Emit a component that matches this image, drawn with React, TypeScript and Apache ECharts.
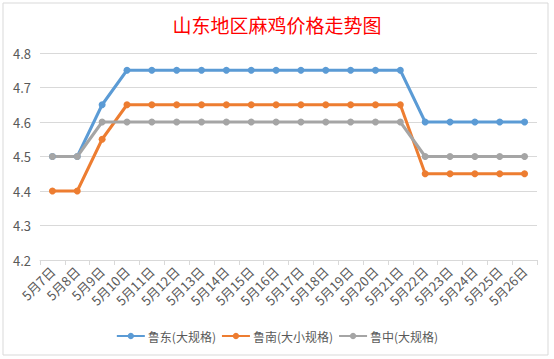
import React, { useEffect, useRef } from "react";
import * as echarts from "echarts";

const categories = ["5月7日","5月8日","5月9日","5月10日","5月11日","5月12日","5月13日","5月14日","5月15日","5月16日","5月17日","5月18日","5月19日","5月20日","5月21日","5月22日","5月23日","5月24日","5月25日","5月26日"];
const ludong = [4.5,4.5,4.65,4.75,4.75,4.75,4.75,4.75,4.75,4.75,4.75,4.75,4.75,4.75,4.75,4.6,4.6,4.6,4.6,4.6];
const lunan = [4.4,4.4,4.55,4.65,4.65,4.65,4.65,4.65,4.65,4.65,4.65,4.65,4.65,4.65,4.65,4.45,4.45,4.45,4.45,4.45];
const luzhong = [4.5,4.5,4.6,4.6,4.6,4.6,4.6,4.6,4.6,4.6,4.6,4.6,4.6,4.6,4.6,4.5,4.5,4.5,4.5,4.5];
const seriesNames = ["鲁东(大规格)","鲁南(大小规格)","鲁中(大规格)"];
const colors = ["#5b9bd5","#ed7d31","#a5a5a5"];
const title = "山东地区麻鸡价格走势图";

export default function App() {
  const ref = useRef<HTMLDivElement>(null);
  useEffect(() => {
    const chart = echarts.init(ref.current!, null, { renderer: "svg" });
    const font = "'Microsoft YaHei','Noto Sans CJK SC',sans-serif";
    const data = [ludong, lunan, luzhong];
    chart.setOption({
      animation: false,
      backgroundColor: "#ffffff",
      textStyle: { fontFamily: font },
      title: {
        text: title,
        left: "center",
        top: 10,
        textStyle: { color: "#ff0000", fontSize: 19, fontWeight: "normal", fontFamily: font },
      },
      graphic: [
        { type: "rect", shape: { x: 3, y: 3, width: 545, height: 352 }, style: { fill: "none", stroke: "#d9d9d9", lineWidth: 1 }, silent: true },
      ],
      grid: { left: 40, right: 17, top: 53, bottom: 99, containLabel: false },
      legend: {
        bottom: 12,
        left: "center",
        itemWidth: 28,
        itemHeight: 8,
        itemGap: 5,
        data: seriesNames,
        textStyle: { color: "#595959", fontSize: 12, fontFamily: font, padding: [0, 0, 0, -2] },
      },
      xAxis: {
        type: "category",
        data: categories,
        boundaryGap: true,
        axisLine: { lineStyle: { color: "#d9d9d9" } },
        axisTick: { show: true, length: 5, lineStyle: { color: "#d9d9d9" } },
        axisLabel: { rotate: 45, color: "#595959", fontSize: 13, interval: 0, margin: 9 },
      },
      yAxis: {
        type: "value",
        min: 4.2,
        max: 4.8,
        interval: 0.1,
        axisLine: { show: false },
        axisTick: { show: false },
        splitLine: { lineStyle: { color: "#d9d9d9" } },
        axisLabel: { color: "#595959", fontSize: 13, margin: 9, formatter: (v: number) => v.toFixed(1) },
      },
      series: seriesNames.map((name, i) => ({
        name,
        type: "line",
        data: data[i],
        symbol: "circle",
        symbolSize: 7,
        lineStyle: { color: colors[i], width: 3 },
        itemStyle: { color: colors[i] },
      })),
    });
    return () => chart.dispose();
  }, []);
  return <div ref={ref} style={{ width: 554, height: 359, position: "absolute", left: 0, top: 0 }} />;
}
